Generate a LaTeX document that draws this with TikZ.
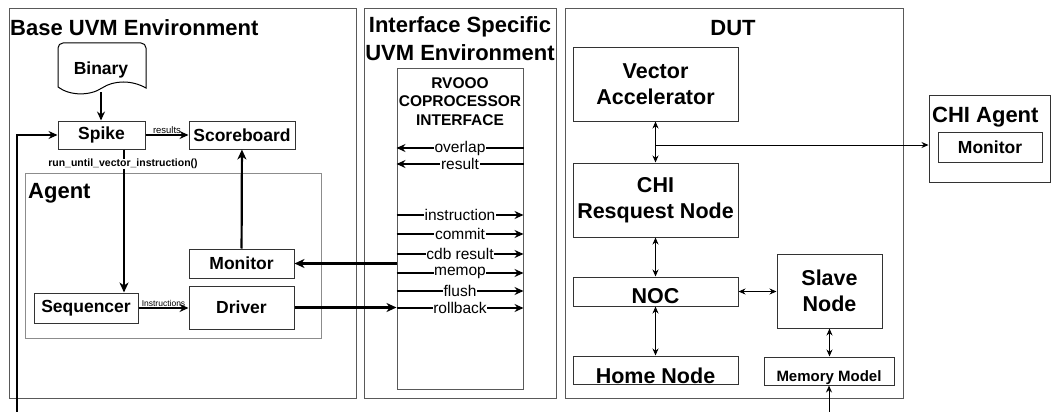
\documentclass[tikz,border=0pt]{standalone}
\usepackage{fontspec}
\setmainfont{Liberation Sans}
\usetikzlibrary{arrows.meta}

\tikzset{
  envbox/.style={draw=black!65, line width=1pt},
  agentbox/.style={draw=black!45, line width=1pt},
  blk/.style={draw=black!80, line width=1pt, inner sep=0pt, align=center,
    font=\bfseries\fontsize{17.5}{20}\selectfont},
  bigblk/.style={blk, font=\bfseries\fontsize{21.5}{26}\selectfont},
  blktext/.style={inner sep=0pt, font=\bfseries\fontsize{21.5}{26}\selectfont},
  envtitle/.style={anchor=base, inner sep=0pt, font=\bfseries\fontsize{22}{28}\selectfont},
  sig/.style={fill=white, inner sep=0.6pt, font=\fontsize{15.5}{17}\selectfont},
  tiny/.style={inner sep=0.6pt, font=\fontsize{9.5}{11}\selectfont},
  fat/.style={line width=2.2pt, -{Stealth[length=10pt,width=9pt,inset=3pt]}},
  med/.style={line width=1.5pt, -{Stealth[length=9pt,width=8pt,inset=3pt]}},
  sigline/.style={line width=1.8pt, -{Stealth[length=9pt,width=8pt,inset=3pt]}},
  dbl/.style={line width=1pt, {Stealth[length=7pt,width=6pt]}-{Stealth[length=7pt,width=6pt]}},
  one/.style={line width=1pt, -{Stealth[length=7pt,width=6pt]}},
}

\begin{document}
\begin{tikzpicture}[x=10pt, y=-10pt]

  \useasboundingbox (0,0) rectangle (105.2,41.2);

%Environments
  \draw[envbox] (0.9,0.9) rectangle (35.6,39.8);
  \draw[envbox] (36.4,0.9) rectangle (55.6,39.8);
  \draw[envbox] (56.5,0.9) rectangle (90.3,39.8);
  \draw[agentbox] (2.5,17.3) rectangle (32.1,33.8);

  \node[envtitle, anchor=base west] (tbase) at (1.0,3.6) {Base UVM Environment};
  \node[envtitle, anchor=base west] (tagent) at (2.8,19.8) {Agent};
  \node[envtitle, anchor=center, align=center] (tintf) at (46.0,3.9) {Interface Specific\\UVM Environment};
  \node[envtitle] (tdut) at (73.3,3.6) {DUT};

%Binary file
  \node[font=\bfseries\fontsize{17.5}{20}\selectfont, inner sep=0pt] (bin) at (10.1,7.0) {Binary};
  \draw[line width=1pt, rounded corners=5pt] (5.8,8.7) -- (5.8,4.3) -- (14.6,4.3) [sharp corners] -- (14.6,8.8)
     .. controls (13.2,8.0) and (11.4,8.0) .. (10.2,8.8) .. controls (9.0,9.6) and (7.0,9.6) .. (5.8,8.7);
  \coordinate (binbot) at (10.1,9.2);

%Base UVM blocks
  \node[blk, minimum width=87pt, minimum height=28pt] (spike) at (10.15,13.5) {Spike};
  \node[blk, minimum width=106pt, minimum height=28pt] (sb) at (24.2,13.5) {Scoreboard};
  \node[blk, minimum width=105pt, minimum height=29pt] (mon) at (24.15,26.35) {Monitor};
  \node[blk, minimum width=105pt, minimum height=43pt] (drv) at (24.15,30.75) {Driver};
  \node[blk, minimum width=104pt, minimum height=30pt] (seq) at (8.6,30.8) {Sequencer};

  \coordinate (fbk) at (1.7,41.2);

  \draw[med] (binbot) -- (binbot |- spike.north);
  \draw[med, line width=1.1pt] (fbk) |- (spike.west);
  \draw[med] (spike) -- (sb) node[tiny, midway, above] {results};
  \draw[fat] ([xshift=22.5pt]spike.south) -- ([xshift=22.5pt]spike.south |- seq.north);
  \node[tiny, fill=white, font=\bfseries\fontsize{10.5}{12}\selectfont] (rutv) at (12.3,16.4) {run\_until\_vector\_instruction()};
  \draw[fat] (mon) -- (sb);
  \draw[med] (seq.east) -- (seq.east -| drv.west) node[tiny, midway, above, font=\fontsize{8.5}{10}\selectfont] {Instructions};

%Coprocessor interface
  \node[draw=black!65, line width=1pt, minimum width=126pt, minimum height=320pt, inner sep=0pt] (rvooo) at (46.0,22.9) {};
  \node[font=\bfseries\fontsize{15.5}{18.5}\selectfont, align=center, inner sep=0pt] (rvtitle) at (46.0,10.15) {RVOOO\\COPROCESSOR\\INTERFACE};

  \foreach \sname/\sy in {overlap/14.8, result/16.4}
    \draw[sigline] (rvooo.east |- 0,\sy) -- (rvooo.west |- 0,\sy) node[sig, midway] {\sname};
  \foreach \sname/\sy in {instruction/21.5, commit/23.4, cdb result/25.4, memop/27.3, flush/29.1, rollback/30.8}
    \draw[sigline] (rvooo.west |- 0,\sy) -- (rvooo.east |- 0,\sy) node[sig, midway] {\sname};

  \draw[fat] (rvooo.west |- mon.east) -- (mon.east);
  \draw[fat] (drv.east) -- (rvooo.west |- drv.east);

%DUT blocks
  \node[bigblk, minimum width=165pt, minimum height=73pt] (va) at (65.55,8.45) {Vector\\Accelerator};
  \node[bigblk, minimum width=165pt, minimum height=74pt] (chirn) at (65.55,20.0) {CHI\\Resquest Node};
  \node[bigblk, minimum width=165pt, minimum height=29pt, label={[blktext, yshift=-5pt]center:NOC}] (noc) at (65.55,29.15) {};
  \node[bigblk, minimum width=165pt, minimum height=28pt, label={[blktext, yshift=-6pt]center:Home Node}] (home) at (65.55,37.0) {};
  \node[bigblk, minimum width=105pt, minimum height=74pt] (slave) at (82.95,29.1) {Slave\\Node};
  \node[bigblk, minimum width=130pt, minimum height=28pt, label={[blktext, font=\bfseries\fontsize{15}{18}\selectfont, yshift=-7pt]center:Memory Model}] (mem) at (82.9,37.1) {};

  \coordinate (tap) at (65.55,14.5);
  \coordinate (membot) at (82.9,41.2);

  \draw[dbl] (va) -- (chirn);
  \draw[dbl] (chirn) -- (noc);
  \draw[dbl] (noc) -- (home);
  \draw[dbl] (noc.east) -- (noc.east -| slave.west);
  \draw[dbl] (slave.south) -- (slave.south |- mem.north);
  \draw[one] (membot) -- (mem.south);

%CHI agent
  \node[draw=black!80, line width=1pt, minimum width=121pt, minimum height=87pt, inner sep=0pt] (chiag) at (98.95,13.85) {};
  \node[envtitle, anchor=base west] (tchi) at (93.2,12.2) {CHI Agent};
  \node[blk, minimum width=104pt, minimum height=30pt] (chimon) at (99.0,14.7) {Monitor};

  \draw[one] (tap) -- (tap -| chiag.west);

\end{tikzpicture}
\end{document}
